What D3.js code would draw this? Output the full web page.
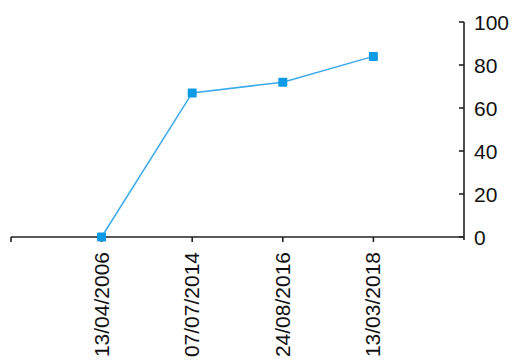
<!DOCTYPE html>
<html>
<head>
<meta charset="utf-8">
<script src="https://cdn.jsdelivr.net/npm/d3@7"></script>
<style>
  html, body { margin: 0; padding: 0; background: #fff; }
  svg { display: block; }
  text { font-family: "Liberation Sans", Arial, sans-serif; fill: #111; }
</style>
</head>
<body>
<script>
// Survey dates and the measured values for each
const dates = ["13/04/2006", "07/07/2014", "24/08/2016", "13/03/2018"];
const values = [0, 67, 72, 84];
const yTicks = [0, 20, 40, 60, 80, 100];

const W = 515, H = 363;
const axisX = 464, x0 = 11;
const yTop = 22, yBottom = 237;

const svg = d3.select("body").append("svg")
  .attr("width", W).attr("height", H);

const x = d3.scalePoint().domain(dates).range([x0, axisX]).padding(1);
const y = d3.scaleLinear().domain([0, 100]).range([yBottom, yTop]);

// Horizontal category axis along the zero line
const gx = svg.append("g");
gx.append("line")
  .attr("x1", x0).attr("x2", axisX)
  .attr("y1", yBottom).attr("y2", yBottom)
  .attr("stroke", "#222").attr("stroke-width", 1.6);
const tickXs = [x0].concat(dates.map(d => x(d)));
gx.selectAll("line.tick").data(tickXs).join("line")
  .attr("class", "tick")
  .attr("x1", d => d).attr("x2", d => d)
  .attr("y1", yBottom).attr("y2", yBottom + 5)
  .attr("stroke", "#222").attr("stroke-width", 1.6);
gx.selectAll("text").data(dates).join("text")
  .attr("transform", d => `translate(${x(d) + 7},${yBottom + 15}) rotate(-90)`)
  .attr("text-anchor", "end")
  .style("font-size", "21px")
  .text(d => d);

// Value axis on the right
const gy = svg.append("g").attr("transform", `translate(${axisX},0)`);
gy.append("line")
  .attr("x1", 0).attr("x2", 0)
  .attr("y1", y(100)).attr("y2", yBottom + 3)
  .attr("stroke", "#222").attr("stroke-width", 1.6);
gy.selectAll("line.tick").data(yTicks).join("line")
  .attr("class", "tick")
  .attr("x1", -5).attr("x2", 0)
  .attr("y1", d => y(d)).attr("y2", d => y(d))
  .attr("stroke", "#222").attr("stroke-width", 1.6);
gy.selectAll("text").data(yTicks).join("text")
  .attr("x", 10).attr("y", d => y(d))
  .attr("dy", "0.36em")
  .style("font-size", "21px")
  .text(d => d);

// Series line and square markers
const pts = dates.map((d, i) => ({ d, v: values[i] }));
svg.append("path")
  .datum(pts)
  .attr("fill", "none")
  .attr("stroke", "#3aa9ec")
  .attr("stroke-width", 1.5)
  .attr("d", d3.line().x(p => x(p.d)).y(p => y(p.v)));

const m = 9;
svg.selectAll("rect.marker").data(pts).join("rect")
  .attr("class", "marker")
  .attr("x", p => x(p.d) - m / 2).attr("y", p => y(p.v) - m / 2)
  .attr("width", m).attr("height", m)
  .attr("rx", 1)
  .attr("fill", "#0d9be8");
</script>
</body>
</html>
